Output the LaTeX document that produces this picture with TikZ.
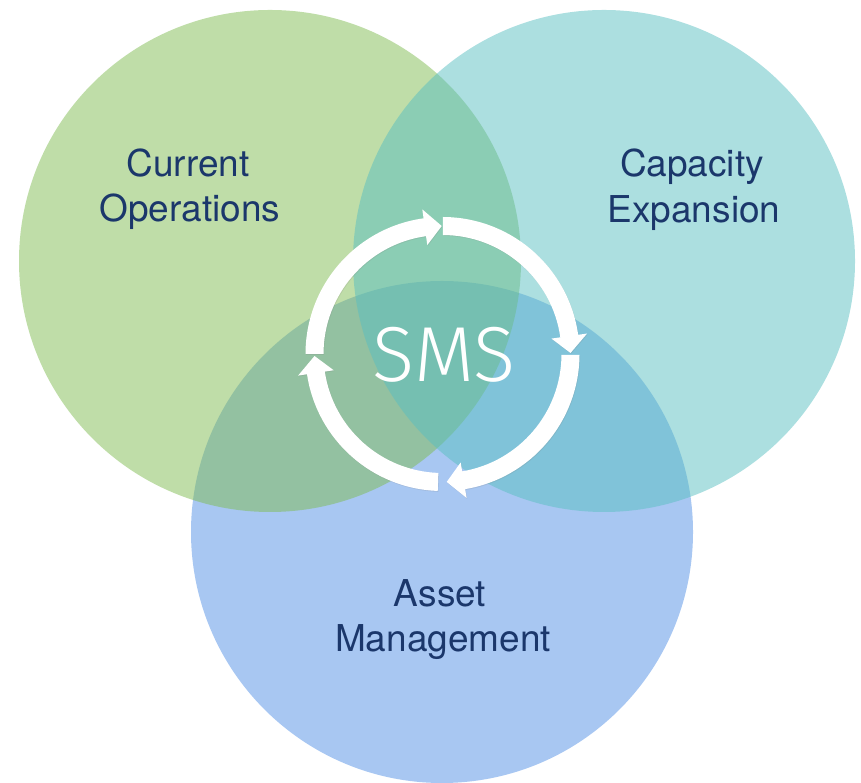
\documentclass[tikz,border=0pt]{standalone}
\usepackage{fontspec}
\setmainfont{TeX Gyre Heros}
\newfontfamily\smsfont{Fira Sans Light}
\usetikzlibrary{shadows}

\definecolor{opsgreen}{RGB}{127,187,81}
\definecolor{captteal}{RGB}{89,191,193}
\definecolor{assetblue}{RGB}{81,143,229}
\definecolor{labelnavy}{RGB}{27,55,107}

\tikzset{
  area/.style={fill opacity=0.5},
  label text/.style={anchor=base, inner sep=0pt, text=labelnavy,
    font=\fontsize{37}{45}\selectfont},
  cycle arrow/.style={fill=white,
    drop shadow={opacity=0.18, shadow xshift=0.6pt, shadow yshift=-0.9pt}},
}

\begin{document}
\begin{tikzpicture}[x=1pt,y=1pt]
\useasboundingbox (0,0) rectangle (861,783);

% the three overlapping areas (blue lies underneath the other two)
\fill[area, assetblue] (442,251) circle[radius=251];
\fill[area, opsgreen]  (270,522) circle[radius=251];
\fill[area, captteal]  (604,522) circle[radius=251];

% area labels
\node[label text] (cur1) at (188,606) {Current};
\node[label text] (cur2) at (190,561) {Operations};
\node[label text] (cap1) at (692,606) {Capacity};
\node[label text] (cap2) at (694,560) {Expansion};
\node[label text] (ast1) at (440,176) {Asset};
\node[label text] (ast2) at (443,131) {Management};

% the clockwise cycle of four arrows around the centre
\begin{scope}[shift={(442.5,429)}]
  \foreach \tail/\tip in {180/90.35, 89.8/0.45, -0.4/-88.1, -92/-179.1} {
    \pgfmathsetmacro\headbase{\tip+7.6}
    \fill[cycle arrow]
      ({\tail}:119) arc[start angle=\tail, end angle=\headbase, radius=119]
      -- ({\headbase}:110) -- ({\tip}:128) -- ({\headbase}:146)
      -- ({\headbase}:137) arc[start angle=\headbase, end angle=\tail, radius=137]
      -- cycle;
  }
\end{scope}

\node[anchor=base, inner sep=0pt, text=white,
      font=\smsfont\fontsize{78}{80}\selectfont] (sms) at (444,401) {SMS};
\end{tikzpicture}
\end{document}
